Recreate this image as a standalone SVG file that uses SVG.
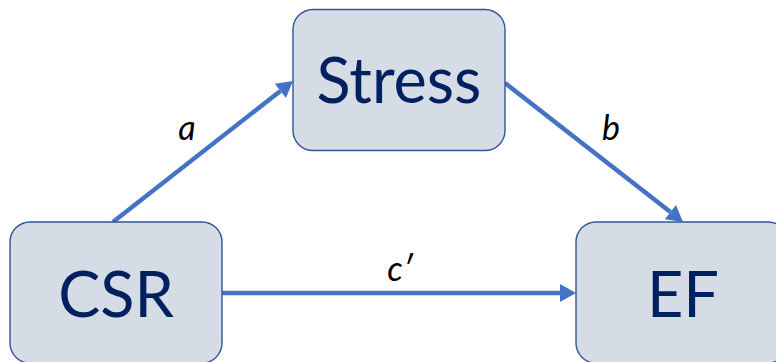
<svg xmlns="http://www.w3.org/2000/svg" width="776" height="362" viewBox="0 0 776 362">
<defs>
<style>
.box{fill:#D6DCE5;stroke:#2F5597;stroke-width:1.4}
.lbl{font-family:Lato,"Open Sans","Liberation Sans",sans-serif;font-size:63px;fill:#002060;text-anchor:middle}
.edge{stroke:#4472C4;stroke-width:4.5;fill:none;marker-end:url(#arr)}
.elbl{font-family:Lato,"Open Sans","Liberation Sans",sans-serif;font-style:italic;font-size:34px;fill:#000;text-anchor:middle}
</style>
<marker id="arr" markerUnits="userSpaceOnUse" markerWidth="16" markerHeight="18" viewBox="0 -9 16 18" refX="0" refY="0" orient="auto" overflow="visible">
<path d="M0,-9 L16,0 L0,9 z" fill="#4472C4"/>
</marker>
</defs>
<rect width="776" height="362" fill="#fff"/>
<g id="connectors">
<path class="edge" d="M113,222 L280.4,90.9"/>
<path class="edge" d="M505,83 L670.4,212.1"/>
<path class="edge" d="M222,293 L560,293"/>
<text class="elbl" x="187" y="140">a</text>
<text class="elbl" x="611" y="140">b</text>
<text class="elbl" x="400" y="281">c′</text>
</g>
<g id="stress">
<rect class="box" x="293" y="9.5" width="212" height="141" rx="20"/>
<text class="lbl" x="399" y="103">Stress</text>
</g>
<g id="csr">
<rect class="box" x="10" y="222" width="212" height="141" rx="20"/>
<text class="lbl" x="116" y="316.5">CSR</text>
</g>
<g id="ef">
<rect class="box" x="576" y="222" width="212" height="141" rx="20"/>
<text class="lbl" x="683" y="316.5">EF</text>
</g>
</svg>
